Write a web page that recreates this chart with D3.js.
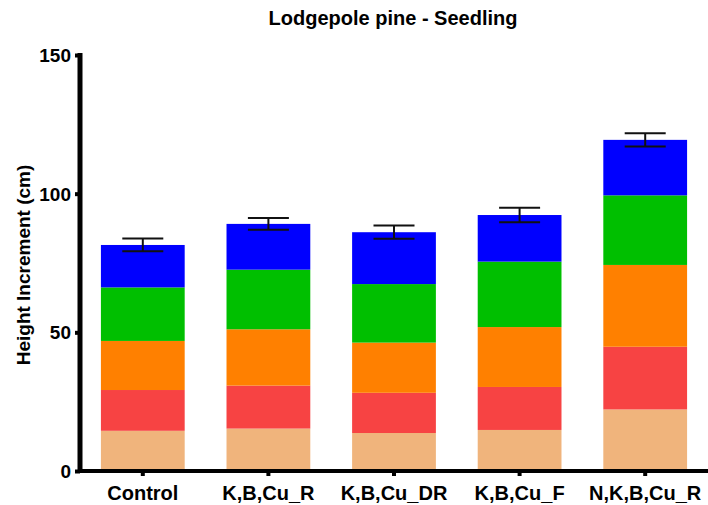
<!DOCTYPE html>
<html>
<head>
<meta charset="utf-8">
<script src="https://cdn.jsdelivr.net/npm/d3@7"></script>
<style>
  html, body { margin: 0; padding: 0; background: #fff; }
  svg { display: block; }
  text { font-family: "Liberation Sans", Arial, sans-serif; font-weight: bold; fill: #000; }
</style>
</head>
<body>
<svg id="chart" width="708" height="505"></svg>
<script>
// Treatments along the x axis
const categories = ["Control", "K,B,Cu_R", "K,B,Cu_DR", "K,B,Cu_F", "N,K,B,Cu_R"];

// Stacked layers, bottom to top (height increment per layer, cm)
const layer1 = [14.5, 15.3, 13.7, 14.8, 22.2];
const layer2 = [14.7, 15.5, 14.5, 15.5, 22.6];
const layer3 = [17.7, 20.3, 18.1, 21.6, 29.5];
const layer4 = [19.3, 21.5, 21.1, 23.6, 25.1];
const layer5 = [15.3, 16.5, 18.7, 16.8, 20.0];

// Error (± cm) on the total height
const totalError = [2.3, 2.1, 2.4, 2.6, 2.4];

const yTicks = [0, 50, 100, 150];
const layerColors = ["#F0B47C", "#F74343", "#FF8000", "#00BF00", "#0000FF"];

const layers = [layer1, layer2, layer3, layer4, layer5];
const rows = categories.map((c, i) => {
  const r = { cat: c };
  layers.forEach((l, k) => { r["s" + k] = l[i]; });
  return r;
});
const keys = layers.map((_, k) => "s" + k);
const series = d3.stack().keys(keys)(rows);

const svg = d3.select("#chart");
const x = d3.scaleBand().domain(categories).range([80, 708]).paddingInner(0.333).paddingOuter(0.1665);
const y = d3.scaleLinear().domain([0, 150]).range([471, 55]);

// Title
svg.append("text")
  .attr("x", 393).attr("y", 25)
  .attr("text-anchor", "middle")
  .style("font-size", "20px")
  .text("Lodgepole pine - Seedling");

// Stacked bars
svg.append("g").selectAll("g")
  .data(series)
  .join("g")
  .attr("fill", (d, i) => layerColors[i])
  .selectAll("rect")
  .data(d => d)
  .join("rect")
  .attr("x", d => x(d.data.cat))
  .attr("width", x.bandwidth())
  .attr("y", d => y(d[1]))
  .attr("height", d => y(d[0]) - y(d[1]));

// Error bars on totals
const topLayer = series[series.length - 1];
const eb = svg.append("g").attr("stroke", "#111").attr("stroke-width", 2).attr("fill", "none");
categories.forEach((c, i) => {
  const total = topLayer[i][1];
  const cx = x(c) + x.bandwidth() / 2;
  const hi = y(total + totalError[i]);
  const lo = y(total - totalError[i]);
  eb.append("line").attr("x1", cx).attr("x2", cx).attr("y1", hi).attr("y2", lo);
  eb.append("line").attr("x1", cx - 20.5).attr("x2", cx + 20.5).attr("y1", hi).attr("y2", hi);
  eb.append("line").attr("x1", cx - 20.5).attr("x2", cx + 20.5).attr("y1", lo).attr("y2", lo);
});

// Y axis
const yAxis = svg.append("g")
  .attr("transform", "translate(80,0)")
  .call(d3.axisLeft(y).tickValues(yTicks).tickSize(5).tickPadding(4));
yAxis.select(".domain").attr("stroke", "#000").attr("stroke-width", 5).attr("d", `M0,${y(150) - 2}V${y(0) + 2}`);
yAxis.selectAll(".tick line").attr("stroke", "#000").attr("stroke-width", 4);
yAxis.selectAll(".tick text").style("font-size", "19px").attr("font-family", null).attr("dy", "0.35em");

// X axis
const xAxis = svg.append("g")
  .attr("transform", "translate(0,471)")
  .call(d3.axisBottom(x).tickSize(5).tickPadding(10));
xAxis.select(".domain").attr("stroke", "#000").attr("stroke-width", 4).attr("d", "M78,0H708");
xAxis.selectAll(".tick line").attr("stroke", "#000").attr("stroke-width", 4);
xAxis.selectAll(".tick text").style("font-size", "20px").attr("font-family", null);

// Y axis label
svg.append("text")
  .attr("transform", "translate(30,265) rotate(-90)")
  .attr("text-anchor", "middle")
  .style("font-size", "19px")
  .text("Height Increment (cm)");
</script>
</body>
</html>
